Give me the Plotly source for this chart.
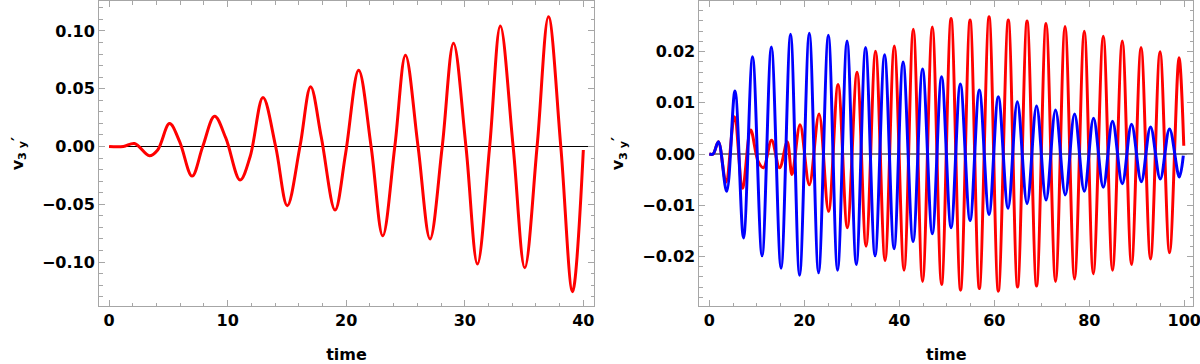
import plotly.graph_objects as go
from plotly.subplots import make_subplots

# left panel: single red curve, extrema / crossings
t_left = [0, 1.2, 2.15, 3.4, 4.1, 5.1, 5.95, 7.0, 7.9, 8.9, 9.85, 11.05, 11.9, 12.98,
          14.05, 15.03, 16.1, 17.0, 17.9, 19.06, 19.95, 21.05, 22.1, 23.08, 24.1, 25.0,
          26.06, 27.07, 28.1, 29.05, 30.1, 31.07, 32.1, 33.0, 34.08, 35.06, 36.1, 37.06,
          38.1, 39.09, 40.0]
v_left = [0, 0, 0.0026, -0.0080, -0.0030, 0.0198, 0.0043, -0.0256, 0, 0.0262, 0.0072,
          -0.0290, -0.0086, 0.0424, 0, -0.0512, 0, 0.0517, 0.0080, -0.0550, -0.0060,
          0.0660, 0, -0.0773, 0, 0.0790, 0, -0.0800, 0, 0.0894, 0, -0.1017, 0, 0.1043,
          0, -0.1050, 0, 0.1123, 0, -0.1256, -0.0030]

# right panel: red and blue curves
t_red = [0, 0.8, 1.9, 3.5, 5.3, 7.0, 8.7, 10.3, 11.4, 13.1, 14.8, 16.4, 17.4, 19.1,
         21.05, 23.1, 25.1, 27.1, 29.05, 31.1, 33.0, 35.0, 37.0, 38.95, 41.0, 42.95,
         44.9, 46.95, 48.9, 50.9, 52.9, 54.9, 56.85, 58.9, 60.85, 62.95, 64.9, 66.9,
         68.9, 70.9, 72.9, 74.9, 76.9, 78.95, 80.85, 82.95, 84.9, 86.95, 88.9, 90.9,
         92.9, 94.9, 96.9, 98.9, 99.9]
v_red = [0, 0, 0.0024, -0.0055, 0.0073, -0.0067, 0.0047, -0.0015, -0.0027, 0.0027,
         -0.0027, 0.0024, -0.0040, 0.0057, -0.0060, 0.0078, -0.0112, 0.0136, -0.0144,
         0.0160, -0.0180, 0.0201, -0.0208, 0.0211, -0.0227, 0.0244, -0.0249, 0.0248,
         -0.0255, 0.0265, -0.0266, 0.0262, -0.0263, 0.0268, -0.0268, 0.0262, -0.0260,
         0.0260, -0.0258, 0.0255, -0.0249, 0.0249, -0.0244, 0.0240, -0.0234, 0.0230,
         -0.0227, 0.0221, -0.0216, 0.0208, -0.0205, 0.0200, -0.0193, 0.0188, 0.0016]

t_blue = [0, 0.8, 1.9, 3.65, 5.4, 7.2, 9.1, 11.1, 13.06, 15.1, 17.1, 19.0, 21.05, 23.0,
          25.06, 27.0, 29.0, 30.95, 32.9, 34.9, 36.9, 38.9, 40.8, 42.9, 44.9, 46.95,
          48.9, 50.9, 52.85, 54.9, 56.85, 58.9, 60.85, 62.9, 64.85, 66.9, 68.9, 70.9,
          72.9, 74.95, 76.9, 78.95, 80.9, 82.95, 84.9, 86.95, 88.9, 90.95, 92.9, 94.95,
          96.9, 98.95, 99.8]
v_blue = [0, 0, 0.0024, -0.0073, 0.0123, -0.0164, 0.0190, -0.0199, 0.0209, -0.0223,
          0.0234, -0.0237, 0.0236, -0.0232, 0.0232, -0.0227, 0.0221, -0.0216, 0.0208,
          -0.0199, 0.0194, -0.0185, 0.0180, -0.0171, 0.0166, -0.0156, 0.0151, -0.0144,
          0.0137, -0.0130, 0.0125, -0.0118, 0.0112, -0.0106, 0.0102, -0.0097, 0.0094,
          -0.0090, 0.0086, -0.0080, 0.0078, -0.0073, 0.0070, -0.0065, 0.0064, -0.0058,
          0.0058, -0.0054, 0.0053, -0.0049, 0.0049, -0.0045, -0.0003]

FONT = "DejaVu Sans"
FRAME = "#a6a6a6"
YLABEL = "v<sub>3 y</sub>′"
label_font = dict(family=FONT, size=16, color="black", weight="bold")

fig = make_subplots(rows=1, cols=2)

fig.add_trace(go.Scatter(x=t_left, y=v_left, mode="lines", line_shape="spline",
                         line=dict(color="#ff0000", width=3, smoothing=1.0)), row=1, col=1)
fig.add_trace(go.Scatter(x=t_red, y=v_red, mode="lines", line_shape="spline",
                         line=dict(color="#ff0000", width=3, smoothing=1.0)), row=1, col=2)
fig.add_trace(go.Scatter(x=t_blue, y=v_blue, mode="lines", line_shape="spline",
                         line=dict(color="#0000ff", width=3, smoothing=1.0)), row=1, col=2)

axis_common = dict(
    showgrid=False, zeroline=False, showline=True, linecolor=FRAME, linewidth=1,
    mirror="allticks", ticks="inside", ticklen=6, tickcolor=FRAME, tickwidth=1,
    tickfont=label_font, automargin=False,
)

fig.update_xaxes(**axis_common, ticklabeloverflow="allow")
fig.update_yaxes(**axis_common)

fig.update_xaxes(domain=[0.0825, 0.495], range=[-0.85, 40.9], tick0=0, dtick=10,
                 minor=dict(ticks="inside", ticklen=3.5, dtick=2, tickcolor=FRAME),
                 title=dict(text="time", standoff=22, font=label_font),
                 row=1, col=1)
fig.update_yaxes(range=[-0.138, 0.1259], tick0=0, dtick=0.05, tickformat=".2f",
                 minor=dict(ticks="inside", ticklen=3.5, dtick=0.01, tickcolor=FRAME),
                 title=dict(text=YLABEL, standoff=14, font=label_font),
                 row=1, col=1)
fig.update_xaxes(domain=[0.5828, 0.9944], range=[-2.1, 101.9], tick0=0, dtick=20,
                 minor=dict(ticks="inside", ticklen=3.5, dtick=5, tickcolor=FRAME),
                 title=dict(text="time", standoff=22, font=label_font),
                 row=1, col=2)
fig.update_yaxes(range=[-0.0297, 0.0299], tick0=0, dtick=0.01, tickformat=".2f",
                 minor=dict(ticks="inside", ticklen=3.5, dtick=0.002, tickcolor=FRAME),
                 title=dict(text=YLABEL, standoff=14, font=label_font),
                 row=1, col=2)

# horizontal axis line at zero, starting from t = 0 as in the original
fig.add_shape(type="line", xref="x", yref="y", x0=0, x1=40.9, y0=0, y1=0,
              line=dict(color="black", width=1), layer="below")
fig.add_shape(type="line", xref="x2", yref="y2", x0=0, x1=101.9, y0=0, y1=0,
              line=dict(color="black", width=1), layer="below")

fig.update_layout(
    width=1200, height=364,
    margin=dict(l=0, r=0, t=1, b=58),
    plot_bgcolor="white", paper_bgcolor="white",
    showlegend=False,
)

# drop the browser's default body margin so the figure sits at the page corner
fig.write_html("out.html", config={"displayModeBar": False},
               post_script="document.body.style.margin='0px';")
